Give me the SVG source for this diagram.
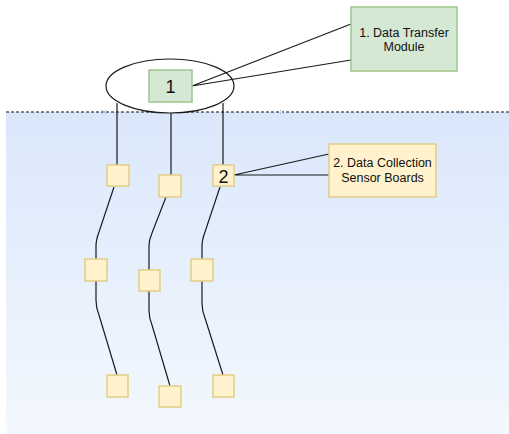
<svg xmlns="http://www.w3.org/2000/svg" width="509" height="434" viewBox="0 0 509 434">
  <defs>
    <linearGradient id="water" x1="0" y1="0" x2="0" y2="1">
      <stop offset="0" stop-color="#dae7fb"/>
      <stop offset="1" stop-color="#f4f8fe"/>
    </linearGradient>
    <style>
      .edge { fill: none; stroke: #1a1a1a; stroke-width: 1.2; }
      .sensor { fill: #fff2cc; stroke: #e3cd85; stroke-width: 1.5; }
      .module { fill: #d5e8d4; stroke: #9fc48a; stroke-width: 1.5; }
      .label { font-family: "Liberation Sans", Arial, sans-serif; font-size: 12.5px; fill: #111; text-anchor: middle; }
      .num { font-family: "Liberation Sans", Arial, sans-serif; font-size: 18px; fill: #111; text-anchor: middle; }
      .mark { stroke: #8fc3ea; stroke-width: 1; }
    </style>
  </defs>

  <rect width="509" height="434" fill="#ffffff"/>

  <!-- water body -->
  <g id="water-body">
    <rect x="6" y="112" width="503" height="322" fill="url(#water)"/>
    <line x1="6" y1="112" x2="509" y2="112" stroke="#111111" stroke-width="1.2" stroke-dasharray="3 2"/>
    <path class="mark" d="M102 110 l4 4 M106 110 l-4 4 M280 110 l4 4 M284 110 l-4 4 M458 110 l4 4 M462 110 l-4 4"/>
  </g>

  <!-- buoy hull -->
  <g id="buoy">
    <ellipse cx="170" cy="86" rx="64" ry="27" fill="#ffffff" stroke="#1a1a1a" stroke-width="1.2"/>
  </g>

  <!-- connectors -->
  <g id="connectors">
    <!-- callout lines -->
    <path class="edge" d="M192 86 L351 24 M192 86 L351 60"/>
    <path class="edge" d="M234 175 L329 154 M234 175 L329 175"/>
    <!-- cables from the buoy -->
    <path class="edge" d="M117 103 L117 165"/>
    <path class="edge" d="M171 113 L171 175"/>
    <path class="edge" d="M223 103 L223 165"/>
    <!-- string 1 -->
    <path class="edge" d="M114 187 L99 232 Q96 240 96 246 L96 259"/>
    <path class="edge" d="M96 281 L96 300 Q96 308 99 315 L117 375"/>
    <!-- string 2 -->
    <path class="edge" d="M166 197 L152 233 Q149 240 149 246 L149 270"/>
    <path class="edge" d="M149 291 L149 310 Q149 318 152 325 L170 386"/>
    <!-- string 3 -->
    <path class="edge" d="M220 187 L205 232 Q202 240 202 246 L202 259"/>
    <path class="edge" d="M202 281 L202 303 Q202 311 205 318 L223 375"/>
  </g>

  <!-- data transfer module -->
  <g id="module-1">
    <rect class="module" x="149" y="70" width="43" height="32"/>
    <text class="num" x="170.5" y="92.5">1</text>
  </g>
  <g id="module-label">
    <rect class="module" x="351" y="7" width="106" height="64"/>
    <text class="label" x="404" y="37">1. Data Transfer</text>
    <text class="label" x="404" y="51">Module</text>
  </g>

  <!-- sensor boards -->
  <g id="sensor-1a"><rect class="sensor" x="107" y="165" width="22" height="21"/></g>
  <g id="sensor-2a"><rect class="sensor" x="159" y="175" width="22" height="22"/></g>
  <g id="sensor-3a">
    <rect class="sensor" x="213" y="165" width="21" height="21"/>
    <text class="num" x="223.5" y="182.5">2</text>
  </g>
  <g id="sensor-1b"><rect class="sensor" x="85" y="259" width="22" height="22"/></g>
  <g id="sensor-2b"><rect class="sensor" x="139" y="270" width="21" height="21"/></g>
  <g id="sensor-3b"><rect class="sensor" x="191" y="259" width="22" height="22"/></g>
  <g id="sensor-1c"><rect class="sensor" x="107" y="375" width="21" height="22"/></g>
  <g id="sensor-2c"><rect class="sensor" x="159" y="386" width="22" height="21"/></g>
  <g id="sensor-3c"><rect class="sensor" x="213" y="375" width="21" height="22"/></g>

  <g id="sensor-label">
    <rect class="sensor" x="329" y="144" width="107" height="53"/>
    <text class="label" x="382.5" y="167">2. Data Collection</text>
    <text class="label" x="382.5" y="182">Sensor Boards</text>
  </g>
</svg>
